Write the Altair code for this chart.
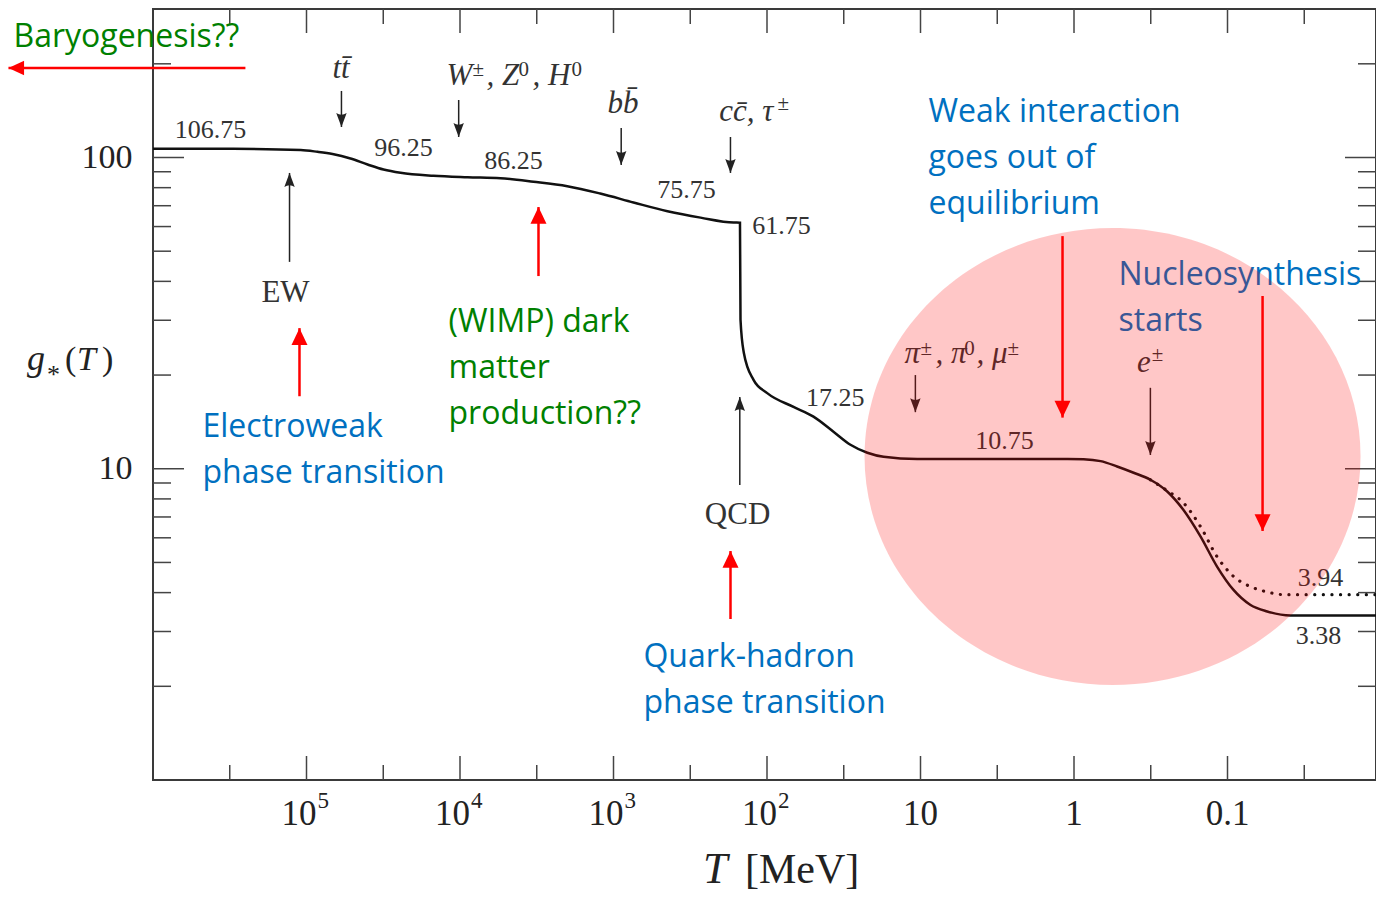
import altair as alt
import pandas as pd

# ---------------- data ----------------
# g_*(T) (solid)
T_gstar = [1e6, 3.0e5, 1.09e5, 8.48e4, 6.77e4, 5.17e4, 4.0e4, 3.15e4, 2.44e4, 1.49e4, 8.93e3,
           5.45e3, 3.32e3, 2.0e3, 1.22e3, 741, 445, 271, 165, 150, 148.8, 141.6, 122.4, 99.7,
           67.2, 49.8, 36.9, 28.6, 22.2, 17.4, 10.5, 1.1, 0.867, 0.671, 0.524, 0.409, 0.318,
           0.247, 0.194, 0.150, 0.117, 0.0914, 0.0708, 0.0551, 0.0389, 0.01]
g_star = [106.75, 106.6, 105.7, 104.3, 102.6, 99.3, 94.96, 91.5, 89.3, 87.35, 86.4,
          85.76, 83.6, 80.9, 76.6, 71.7, 67.2, 64.1, 61.8, 61.75, 30.1, 23.6, 19.3, 17.5,
          15.8, 14.7, 13.15, 11.94, 11.26, 10.93, 10.75, 10.75, 10.73, 10.58, 10.17, 9.71, 9.22,
          8.45, 7.38, 6.06, 4.85, 4.08, 3.65, 3.48, 3.38, 3.38]
# g_*s(T) (dotted, after e+e- annihilation)
T_gs = [0.318, 0.247, 0.194, 0.150, 0.117, 0.0914, 0.0708, 0.0551, 0.0431, 0.0301, 0.01]
g_s = [9.22, 8.5, 7.78, 6.52, 5.22, 4.51, 4.18, 4.02, 3.94, 3.94, 3.94]

# plateau values
plateau_labels = ["106.75", "96.25", "86.25", "75.75", "61.75", "17.25", "10.75", "3.94", "3.38"]
plateau_T = [4.22e5, 2.33e4, 4.48e3, 334, 80.5, 35.9, 2.84, 0.0248, 0.0255]
plateau_g = [122.6, 107.3, 97.4, 78.6, 60.3, 16.9, 12.3, 4.46, 2.90]

# transitions
epoch_labels = ["EW", "QCD"]
epoch_T = [1.37e5, 155.6]
epoch_g = [36.7, 7.10]

# particle thresholds (main glyphs and superscripts)
particle_labels = ["tt\u0304", "W", ", Z", ", H", "bb\u0304", "cc\u0304, \u03c4", "\u03c0",
                   ", \u03c0", ", \u03bc", "e"]
particle_T = [6.77e4, 1.224e4, 6.72e3, 3.37e3, 1094, 205, 12.71, 7.98, 4.32, 0.389]
particle_g = [180.0, 171.0, 171.0, 171.0, 139.0, 131.0, 21.87, 21.87, 21.87, 20.46]
sup_labels = ["\u00b1", "0", "0", "\u00b1", "\u00b1", "0", "\u00b1", "\u00b1"]
sup_T = [8.29e3, 4.16e3, 1.877e3, 85.4, 10.0, 5.18, 2.71, 0.312]
sup_g = [182.7, 182.7, 182.7, 142.1, 23.21, 23.21, 23.21, 22.19]

# black arrows
down_T = [5.92e4, 1.02e4, 891, 173, 10.8, 0.318]
down_from = [163.6, 153.0, 124.4, 116.4, 20.0, 18.2]
down_to = [125.3, 116.4, 94.6, 89.2, 15.2, 11.07]
up_T = [1.29e5, 150.4]
up_from = [46.2, 8.87]
up_to = [89.2, 17.0]

# red arrows
red_down_T = [1.188, 0.0591]
red_down_from = [55.9, 35.9]
red_down_to = [14.6, 6.31]
red_up_T = [1.111e5, 3081, 172.9]
red_up_from = [17.1, 41.6, 3.29]
red_up_to = [28.3, 69.3, 5.44]
red_left_g = [194]
red_left_from = [2.5e5]
red_left_to = [8.74e6]

# commentary texts
blue_texts = ["Weak interaction\ngoes out of\nequilibrium", "Nucleosynthesis\nstarts",
              "Electroweak\nphase transition", "Quark-hadron\nphase transition"]
blue_T = [8.87, 0.513, 4.76e5, 637.8]
blue_g = [130.1, 38.94, 12.65, 2.307]
green_texts = ["(WIMP) dark\nmatter\nproduction??", "Baryogenesis??"]
green_T = [1.188e4, 8.11e6]
green_g = [27.51, 226.5]

# highlighted region
circle_T = [0.561]
circle_g = [10.95]

# axis ticks and labels
x_major = [1e5, 1e4, 1e3, 100, 10, 1, 0.1]
x_minor = [316228, 31623, 3162.3, 316.23, 31.623, 3.1623, 0.31623, 0.031623]
y_major = [10, 100]
y_minor = [2, 3, 4, 5, 6, 7, 8, 9, 20, 30, 40, 50, 60, 70, 80, 90, 200]
xlab_T = [1e5, 1e4, 1e3, 100, 10, 1, 0.1]
xlab_base = ["10", "10", "10", "10", "10", "1", "0.1"]
xlab_exp = ["5", "4", "3", "2", "", "", ""]

# ---------------- chart ----------------
W, H = 1223, 771
SERIF = "Liberation Serif"
SANS = "Open Sans"
INK = "#222222"

xs = alt.Scale(type="log", domain=[0.01078, 1e6], reverse=True, nice=False)
ys = alt.Scale(type="log", domain=[1, 300], nice=False)
y_axis = alt.Axis(values=[10, 100], format="d", ticks=False, domain=False, grid=False,
                  labelFont=SERIF, labelFontSize=34, labelColor=INK, labelPadding=21,
                  title=None)


def X(f="T"):
    return alt.X(f"{f}:Q", scale=xs, axis=None)


def Y(f="g"):
    return alt.Y(f"{f}:Q", scale=ys, axis=y_axis)


def df(**kw):
    return pd.DataFrame(kw)


layers = []

# ticks (inward, all four sides)
tk = dict(color="#444444", strokeWidth=1.5)
for vals, L in ((x_major, 24), (x_minor, 15)):
    d = df(T=vals)
    layers.append(alt.Chart(d).mark_rule(**tk).encode(x=X(), y=alt.value(H), y2=alt.value(H - L)))
    layers.append(alt.Chart(d).mark_rule(**tk).encode(x=X(), y=alt.value(0), y2=alt.value(L)))
for vals, L in ((y_major, 31), (y_minor, 18)):
    d = df(g=vals)
    layers.append(alt.Chart(d).mark_rule(**tk).encode(y=Y(), x=alt.value(0), x2=alt.value(L)))
    layers.append(alt.Chart(d).mark_rule(**tk).encode(y=Y(), x=alt.value(W), x2=alt.value(W - L)))

# curves
layers.append(alt.Chart(df(T=T_gstar, g=g_star)).mark_line(
    color="#111111", strokeWidth=2.5, interpolate="monotone").encode(x=X(), y=Y()))
layers.append(alt.Chart(df(T=T_gs, g=g_s)).mark_line(
    color="#111111", strokeWidth=3.2, strokeDash=[0.1, 8.5], strokeCap="round",
    interpolate="monotone").encode(x=X(), y=Y()))

# numeric plateau labels
layers.append(alt.Chart(df(text=plateau_labels, T=plateau_T, g=plateau_g)).mark_text(
    font=SERIF, fontSize=26, color="#333333", align="center", baseline="middle").encode(
    x=X(), y=Y(), text="text:N"))
layers.append(alt.Chart(df(text=epoch_labels, T=epoch_T, g=epoch_g)).mark_text(
    font=SERIF, fontSize=31, color="#333333", align="center", baseline="middle").encode(
    x=X(), y=Y(), text="text:N"))

# particle labels
layers.append(alt.Chart(df(text=particle_labels, T=particle_T, g=particle_g)).mark_text(
    font=SERIF, fontSize=31, fontStyle="italic", color="#333333", align="left",
    baseline="alphabetic").encode(x=X(), y=Y(), text="text:N"))
layers.append(alt.Chart(df(text=sup_labels, T=sup_T, g=sup_g)).mark_text(
    font=SERIF, fontSize=21, color="#333333", align="left",
    baseline="alphabetic").encode(x=X(), y=Y(), text="text:N"))

# black arrows
shafts = df(T=down_T + up_T, g=down_from + up_from, T2=down_T + up_T, g2=down_to + up_to)
layers.append(alt.Chart(shafts).mark_rule(color="#222222", strokeWidth=1.5).encode(
    x=X(), x2=alt.X2("T2:Q"), y=Y(), y2=alt.Y2("g2:Q")))
head_down_blk = "M0,0 L-0.65,-1.75 Q0,-1.3 0.65,-1.75 Z"
head_up_blk = "M0,0 L-0.65,1.75 Q0,1.3 0.65,1.75 Z"
layers.append(alt.Chart(df(T=down_T, g=down_to)).mark_point(
    shape=head_down_blk, size=256, filled=True, color="#222222", opacity=1,
    strokeWidth=0).encode(x=X(), y=Y()))
layers.append(alt.Chart(df(T=up_T, g=up_to)).mark_point(
    shape=head_up_blk, size=256, filled=True, color="#222222", opacity=1,
    strokeWidth=0).encode(x=X(), y=Y()))

# commentary texts
layers.append(alt.Chart(df(text=blue_texts, T=blue_T, g=blue_g)).mark_text(
    font=SANS, fontSize=32, color="#0070C0", align="left", baseline="alphabetic",
    lineBreak="\n", lineHeight=46).encode(x=X(), y=Y(), text="text:N"))
layers.append(alt.Chart(df(text=green_texts, T=green_T, g=green_g)).mark_text(
    font=SANS, fontSize=32, color="#008000", align="left", baseline="alphabetic",
    lineBreak="\n", lineHeight=46).encode(x=X(), y=Y(), text="text:N"))

# x tick labels with superscript exponents
xl = df(T=xlab_T, base=xlab_base, exp=xlab_exp)
with_exp = xl[xl["exp"] != ""]
no_exp = xl[xl["exp"] == ""]
layers.append(alt.Chart(with_exp).mark_text(
    font=SERIF, fontSize=35, color=INK, align="right", baseline="alphabetic", dx=10).encode(
    x=X(), y=alt.value(H + 45), text="base:N"))
layers.append(alt.Chart(with_exp).mark_text(
    font=SERIF, fontSize=23, color=INK, align="left", baseline="alphabetic", dx=11).encode(
    x=X(), y=alt.value(H + 28), text="exp:N"))
layers.append(alt.Chart(no_exp).mark_text(
    font=SERIF, fontSize=35, color=INK, align="center", baseline="alphabetic").encode(
    x=X(), y=alt.value(H + 45), text="base:N"))

# axis titles
one = df(a=[0])


def piece(txt, px, py, size, italic=False):
    kw = dict(font=SERIF, fontSize=size, color=INK, align="left", baseline="alphabetic",
              text=txt)
    if italic:
        kw["fontStyle"] = "italic"
    return alt.Chart(one).mark_text(**kw).encode(x=alt.value(px), y=alt.value(py))


layers += [
    piece("T", 550, H + 103, 44, True),
    piece("[MeV]", 592, H + 103, 42),
    piece("g", -126, 361, 36, True),
    piece("*", -106, 374, 26),
    piece("(", -88, 361, 34),
    piece("T", -76, 361, 34, True),
    piece(")", -51, 361, 34),
]

# highlighted region
ellipse = "M-1,0 A1,0.921 0 1,0 1,0 A1,0.921 0 1,0 -1,0 Z"
layers.append(alt.Chart(df(T=circle_T, g=circle_g)).mark_point(
    shape=ellipse, size=496 ** 2, filled=True, color="#FF0000", opacity=0.22,
    strokeWidth=0).encode(x=X(), y=Y()))

# red arrows
red_shafts = df(T=red_down_T + red_up_T + red_left_from,
                T2=red_down_T + red_up_T + red_left_to,
                g=red_down_from + red_up_from + red_left_g,
                g2=red_down_to + red_up_to + red_left_g)
layers.append(alt.Chart(red_shafts).mark_rule(color="#FF0000", strokeWidth=2.5).encode(
    x=X(), x2=alt.X2("T2:Q"), y=Y(), y2=alt.Y2("g2:Q")))
red_heads = [
    ("M0,0 L-1,-2.1 L1,-2.1 Z", df(T=red_down_T, g=red_down_to)),
    ("M0,0 L-1,2.1 L1,2.1 Z", df(T=red_up_T, g=red_up_to)),
    ("M0,0 L1.95,-0.9 L1.95,0.9 Z", df(T=red_left_to, g=red_left_g)),
]
for shp, d in red_heads:
    layers.append(alt.Chart(d).mark_point(
        shape=shp, size=256, filled=True, color="#FF0000", opacity=1,
        strokeWidth=0).encode(x=X(), y=Y()))

chart = alt.layer(*layers).properties(
    width=W, height=H,
    padding={"left": 145, "top": 1, "right": 0, "bottom": 114},
    autosize=alt.AutoSizeParams(type="none"),
    background="white",
).configure_view(stroke="#3a3a3a", strokeWidth=2)

chart.save("out.html", embed_options={"renderer": "svg", "actions": False})
